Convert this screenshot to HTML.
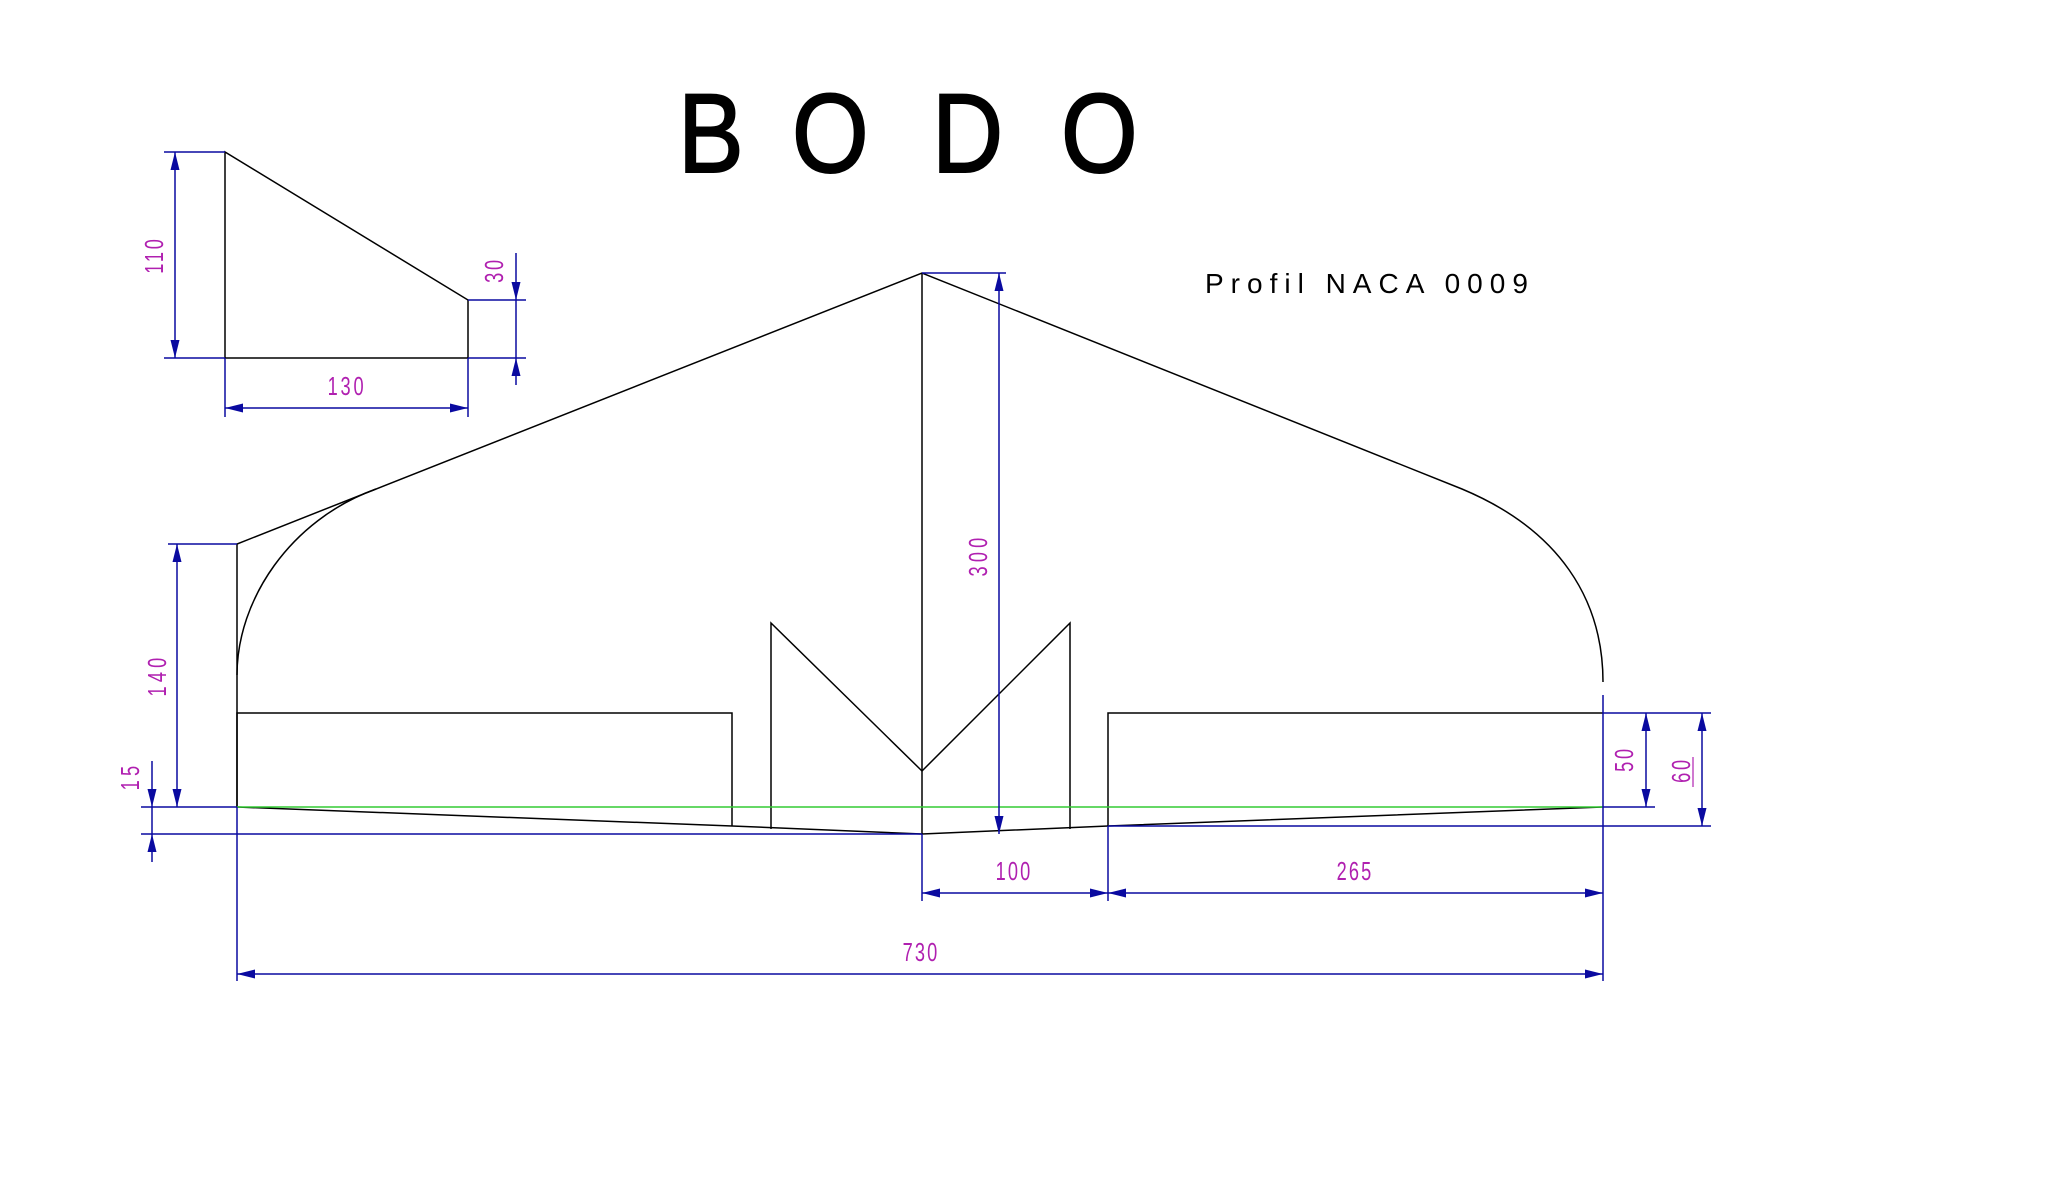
<!DOCTYPE html>
<html><head><meta charset="utf-8"><style>html,body{margin:0;padding:0;background:#fff}svg{display:block}</style></head>
<body>
<svg width="2056" height="1191" viewBox="0 0 2056 1191" xmlns="http://www.w3.org/2000/svg">
<defs>
<marker id="a" viewBox="0 0 18 9" refX="18" refY="4.5" markerWidth="18" markerHeight="9" markerUnits="userSpaceOnUse" orient="auto-start-reverse"><path d="M0 0 L18 4.5 L0 9 Z" fill="#0a0aa0"/></marker>
</defs>
<g font-family="Liberation Sans, sans-serif" fill="#000" stroke="#000" stroke-width="2">
<text transform="translate(678,172) scale(0.88,1)" font-size="112">B</text>
<text transform="translate(792,172) scale(0.88,1)" font-size="112">O</text>
<text transform="translate(932,172) scale(0.88,1)" font-size="112">D</text>
<text transform="translate(1061,172) scale(0.88,1)" font-size="112">O</text>
</g>
<text x="1205" y="293" font-family="Liberation Sans, sans-serif" font-size="28" letter-spacing="7">Profil NACA 0009</text>
<g stroke="#000" stroke-width="1.5" fill="none">
<path d="M225 152 L225 358 L468 358 L468 300 Z"/>
<path d="M237 807 L237 544 L922 273 L1462 489 C1560 530 1603 600 1603 682"/>
<path d="M376 489 C290 520 237 600 237 675"/>
<line x1="922" y1="273" x2="922" y2="834"/>
<path d="M237 807 L237 713 L732 713 L732 826"/>
<path d="M1108 826 L1108 713 L1603 713"/>
<path d="M771 829 L771 623 L922 771 L1070 623 L1070 829"/>
<path d="M237 807 L732 826 L922 834 L1108 826 L1603 807"/>
</g>
<line x1="237" y1="807" x2="1603" y2="807" stroke="#33cc33" stroke-width="1.5"/>
<g stroke="#0a0aa0" stroke-width="1.5" fill="none">
<line x1="164" y1="152" x2="225" y2="152"/>
<line x1="164" y1="358" x2="225" y2="358"/>
<line x1="175" y1="152" x2="175" y2="358" marker-start="url(#a)" marker-end="url(#a)"/>
<line x1="468" y1="358" x2="526" y2="358"/>
<line x1="468" y1="300" x2="526" y2="300"/>
<line x1="516" y1="253" x2="516" y2="300" marker-end="url(#a)"/>
<line x1="516" y1="385" x2="516" y2="358" marker-end="url(#a)"/>
<line x1="516" y1="300" x2="516" y2="358"/>
<line x1="225" y1="358" x2="225" y2="417"/>
<line x1="468" y1="358" x2="468" y2="417"/>
<line x1="225" y1="408" x2="468" y2="408" marker-start="url(#a)" marker-end="url(#a)"/>
<line x1="168" y1="544" x2="237" y2="544"/>
<line x1="177" y1="544" x2="177" y2="807" marker-start="url(#a)" marker-end="url(#a)"/>
<line x1="141" y1="807" x2="237" y2="807"/>
<line x1="141" y1="834" x2="922" y2="834"/>
<line x1="152" y1="761" x2="152" y2="807" marker-end="url(#a)"/>
<line x1="152" y1="862" x2="152" y2="834" marker-end="url(#a)"/>
<line x1="152" y1="807" x2="152" y2="834"/>
<line x1="922" y1="273" x2="1006" y2="273"/>
<line x1="999" y1="273" x2="999" y2="834" marker-start="url(#a)" marker-end="url(#a)"/>
<line x1="237" y1="807" x2="237" y2="981"/>
<line x1="1603" y1="695" x2="1603" y2="981"/>
<line x1="922" y1="834" x2="922" y2="901"/>
<line x1="1108" y1="826" x2="1108" y2="901"/>
<line x1="922" y1="893" x2="1108" y2="893" marker-start="url(#a)" marker-end="url(#a)"/>
<line x1="1108" y1="893" x2="1603" y2="893" marker-start="url(#a)" marker-end="url(#a)"/>
<line x1="237" y1="974" x2="1603" y2="974" marker-start="url(#a)" marker-end="url(#a)"/>
<line x1="1603" y1="713" x2="1711" y2="713"/>
<line x1="1603" y1="807" x2="1655" y2="807"/>
<line x1="1108" y1="826" x2="1711" y2="826"/>
<line x1="1646" y1="713" x2="1646" y2="807" marker-start="url(#a)" marker-end="url(#a)"/>
<line x1="1702" y1="713" x2="1702" y2="826" marker-start="url(#a)" marker-end="url(#a)"/>
</g>
<g font-family="Liberation Sans, sans-serif" font-size="26" fill="#b020b0" text-anchor="middle">
<text transform="translate(347,395) scale(0.7,1)" letter-spacing="4">130</text>
<text transform="translate(163,255) rotate(-90) scale(0.7,1)" letter-spacing="4">110</text>
<text transform="translate(503,270) rotate(-90) scale(0.7,1)" letter-spacing="4">30</text>
<text transform="translate(166,675) rotate(-90) scale(0.7,1)" letter-spacing="6">140</text>
<text transform="translate(139,776) rotate(-90) scale(0.7,1)" letter-spacing="6">15</text>
<text transform="translate(987,555) rotate(-90) scale(0.7,1)" letter-spacing="6">300</text>
<text transform="translate(1014,880) scale(0.7,1)" letter-spacing="3">100</text>
<text transform="translate(1355,880) scale(0.7,1)" letter-spacing="3">265</text>
<text transform="translate(921,961) scale(0.7,1)" letter-spacing="3">730</text>
<text transform="translate(1633,759) rotate(-90) scale(0.7,1)" letter-spacing="4">50</text>
<text transform="translate(1690,770) rotate(-90) scale(0.7,1)" letter-spacing="4">60</text>
</g>
<line x1="1693" y1="757" x2="1693" y2="787" stroke="#b020b0" stroke-width="1.2"/>
</svg>
</body></html>
